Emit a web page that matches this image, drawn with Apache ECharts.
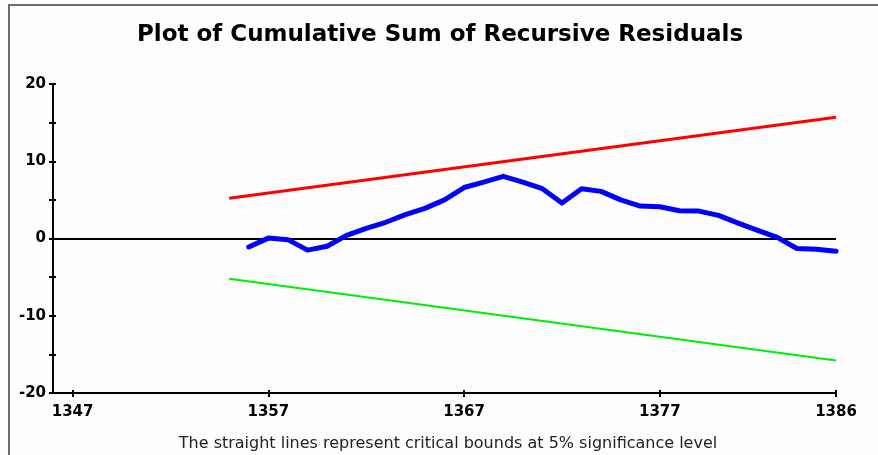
<!DOCTYPE html>
<html>
<head>
<meta charset="utf-8">
<script src="https://cdn.jsdelivr.net/npm/echarts@6/dist/echarts.min.js"></script>
<style>
html,body{margin:0;padding:0;background:#fdfdfd;}
#wrap{position:relative;width:878px;height:455px;}
#chart{position:absolute;left:0;top:0;width:878px;height:455px;}
#frame{position:absolute;left:8px;top:4px;right:0;bottom:0;border-left:2px solid #6e6e6e;border-top:2px solid #6e6e6e;pointer-events:none;}
</style>
</head>
<body>
<div id="wrap"><div id="chart"></div><div id="frame"></div></div>
<script>
const titleText = 'Plot of Cumulative Sum of Recursive Residuals';
const noteText = 'The straight lines represent critical bounds at 5% significance level';
const xTickLabels = [1347, 1357, 1367, 1377, 1386];
const yTickLabels = [-20, -10, 0, 10, 20];
const cusumYears = [1356,1357,1358,1359,1360,1361,1362,1363,1364,1365,1366,1367,1368,1369,1370,1371,1372,1373,1374,1375,1376,1377,1378,1379,1380,1381,1382,1383,1384,1385,1386];
const cusumValues = [-1.1,0.05,-0.15,-1.5,-1.0,0.4,1.3,2.1,3.1,3.9,5.0,6.6,7.3,8.05,7.3,6.45,4.6,6.45,6.1,5.0,4.2,4.1,3.6,3.55,3.0,2.0,1.05,0.15,-1.3,-1.4,-1.65];
const boundYears = [1355, 1386];
const upperBound = [5.2, 15.7];
const lowerBound = [-5.2, -15.8];

const pair = (xs, ys) => xs.map((x, i) => [x, ys[i]]);
const lblFont = {color:'#000', fontFamily:'DejaVu Sans', fontWeight:'bold', fontSize:15};

const chart = echarts.init(document.getElementById('chart'), null, {renderer:'canvas'});
chart.setOption({
  backgroundColor:'#fdfdfd',
  animation:false,
  title:[
    {text:titleText, left:435, top:19, textAlign:'center',
     textStyle:{fontFamily:'DejaVu Sans', fontWeight:'bold', fontSize:23, color:'#000'}},
    {text:noteText, left:443, top:431, textAlign:'center',
     textStyle:{fontFamily:'DejaVu Sans', fontWeight:'normal', fontSize:16, color:'#222'}}
  ],
  grid:{left:53, right:42, top:84, bottom:62},
  xAxis:[
    {type:'value', min:1346, max:1386,
     axisLine:{onZero:false, lineStyle:{color:'#000', width:2}},
     axisTick:{show:true, length:4, customValues:xTickLabels, lineStyle:{color:'#000', width:2}},
     axisLabel:{customValues:xTickLabels, margin:12, formatter:v => String(v), ...lblFont},
     splitLine:{show:false}},
    {type:'value', min:1346, max:1386, position:'bottom',
     axisLine:{show:false, onZero:false},
     axisTick:{show:true, inside:true, length:3, customValues:xTickLabels, lineStyle:{color:'#000', width:2}},
     axisLabel:{show:false}, splitLine:{show:false}}
  ],
  yAxis:[
    {type:'value', min:-20, max:20, interval:5,
     axisLine:{show:true, lineStyle:{color:'#000', width:2}},
     axisTick:{show:true, length:4, lineStyle:{color:'#000', width:2}},
     axisLabel:{customValues:yTickLabels, margin:7, formatter:v => String(v), ...lblFont},
     splitLine:{show:false}},
    {type:'value', min:-20, max:20, interval:5, position:'left',
     axisLine:{show:false},
     axisTick:{show:true, inside:true, length:3, lineStyle:{color:'#000', width:2}},
     axisLabel:{show:false}, splitLine:{show:false}}
  ],
  series:[
    {type:'line', name:'upper', data:pair(boundYears, upperBound), showSymbol:false,
     lineStyle:{color:'#ff0000', width:3}, z:2},
    {type:'line', name:'lower', data:pair(boundYears, lowerBound), showSymbol:false,
     lineStyle:{color:'#00ee00', width:2}, z:2},
    {type:'line', name:'cusum', data:pair(cusumYears, cusumValues), showSymbol:false,
     lineStyle:{color:'#0000ff', width:5, cap:'round', join:'round'}, z:3,
     markLine:{silent:true, symbol:'none', label:{show:false},
       lineStyle:{color:'#000', width:2, type:'solid'}, data:[{yAxis:0}], z:1}}
  ]
});
</script>
</body>
</html>
